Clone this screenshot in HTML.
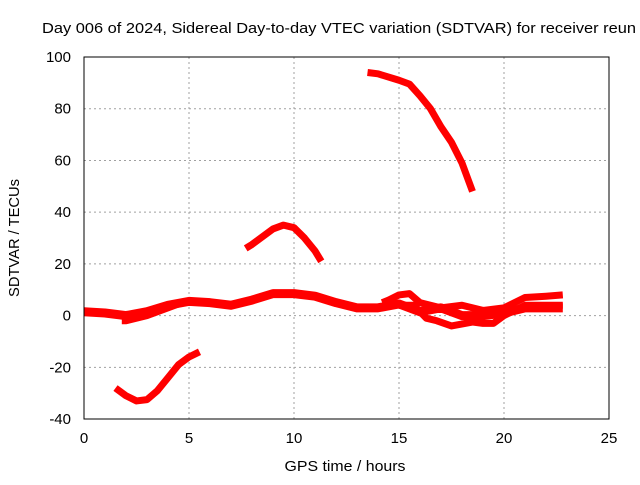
<!DOCTYPE html>
<html><head><meta charset="utf-8"><style>
body{margin:0;background:#fff}
svg text{font-family:"Liberation Sans",sans-serif;font-size:15px;fill:#000}
</style></head><body>
<svg id="c" width="640" height="480" xmlns="http://www.w3.org/2000/svg">
<rect width="640" height="480" fill="#fff"/>
<text x="42" y="33" textLength="594" lengthAdjust="spacingAndGlyphs">Day 006 of 2024, Sidereal Day-to-day VTEC variation (SDTVAR) for receiver reun</text>
<g id="grid"></g><g id="ticks"></g><g id="series"></g>
<rect x="84" y="57" width="525" height="362" fill="none" stroke="#000" stroke-width="1"/>
<text x="345" y="471" text-anchor="middle" textLength="121" lengthAdjust="spacingAndGlyphs">GPS time / hours</text>
<text transform="translate(19,238) rotate(-90)" text-anchor="middle" textLength="118" lengthAdjust="spacingAndGlyphs">SDTVAR / TECUs</text>
</svg>
<script>
const xTicks=[0,5,10,15,20,25];
const yTicks=[-40,-20,0,20,40,60,80,100];
const trackMainT=[0,1,2,3,4,5,6,7,8,9,10,11,12,13,14,15,16,17,18,19,20,21,22,22.8];
const trackMainV=[1.5,1,0,1.5,4,5.5,5,4,6,8.5,8.5,7.5,5,3,3,4.5,1.5,3,0,0,1,3,3,3];
const trackLowT=[1.8,2,3,4,4.5];
const trackLowV=[-2,-2,0,3,4.5];
const trackUpT=[14.2,14.5,15,15.5,16,17,18,19,20,21,22,22.8];
const trackUpV=[5,6,8,8.5,5,3,4,2,3,7,7.5,8];
const trackDownT=[15,15.7,16.3,16.8,17.5,18.5,19,19.5,20,20.5,21,22,22.8];
const trackDownV=[4,4,-1,-2,-4,-2.5,-3,-3,0,2,4,4,4];
const arcTopT=[13.5,14,15,15.5,16,16.5,17,17.5,18,18.5];
const arcTopV=[94,93.5,91,89.5,85,80,73,67,59,48];
const arcMidT=[7.7,8,8.5,9,9.5,10,10.5,11,11.3];
const arcMidV=[26,27.5,30.5,33.5,35,34,30,25,21];
const arcBotT=[1.5,2,2.5,3,3.5,4,4.5,5,5.5];
const arcBotV=[-28,-31,-33,-32.5,-29,-24,-19,-16,-14];
const X=t=>84+t*21, Y=v=>315.6-v*2.586;
const NS="http://www.w3.org/2000/svg";
function mk(tag,parent,attrs){const e=document.createElementNS(NS,tag);for(const k in attrs)e.setAttribute(k,attrs[k]);document.getElementById(parent).appendChild(e);return e;}
xTicks.forEach(t=>{
 if(t>0&&t<25){const g=mk('line','grid',{x1:X(t),x2:X(t),y1:57,y2:419,stroke:'#a0a0a0','stroke-dasharray':'2,3'});
 
 }
 const l=mk('text','ticks',{x:X(t),y:443,'text-anchor':'middle'});l.textContent=t;
 
 
});
yTicks.forEach(v=>{
 if(v>-40&&v<100){const g=mk('line','grid',{x1:84,x2:609,y1:Y(v),y2:Y(v),stroke:'#a0a0a0','stroke-dasharray':'2,3'});
 
 }
 const l=mk('text','ticks',{x:71,y:Y(v)+5,'text-anchor':'end'});l.textContent=v;
 
 
});
const tracks=[[trackMainT,trackMainV,'track-main',9],[trackLowT,trackLowV,'track-low',7],[trackUpT,trackUpV,'track-upper',7],[trackDownT,trackDownV,'track-lower',7],[arcTopT,arcTopV,'arc-top',7],[arcMidT,arcMidV,'arc-mid',7],[arcBotT,arcBotV,'arc-bottom',7]];
tracks.forEach(([ts,vs,name,w])=>{
 const p=mk('polyline','series',{points:ts.map((t,i)=>X(t)+','+Y(vs[i])).join(' '),fill:'none',stroke:'#f00','stroke-width':w,'stroke-linejoin':'round','stroke-linecap':'butt'});
 
 
});
</script>
</body></html>
